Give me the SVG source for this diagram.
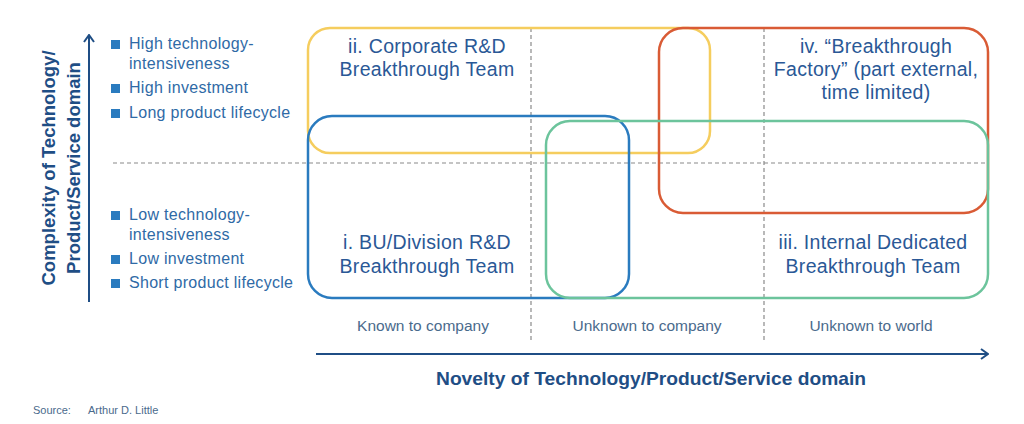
<svg xmlns="http://www.w3.org/2000/svg" width="1024" height="424" viewBox="0 0 1024 424">
<style>
.bul{font-family:"Liberation Sans",Arial,sans-serif;font-size:16px;letter-spacing:0.3px;fill:#2f6aa6}
.sq{fill:#2a7bbf}
.ttl{font-family:"Liberation Sans",Arial,sans-serif;font-size:19.5px;letter-spacing:0.3px;fill:#2a5896;text-anchor:middle}
.col{font-family:"Liberation Sans",Arial,sans-serif;font-size:15.5px;fill:#4a6a8c;text-anchor:middle}
.ax{font-family:"Liberation Sans",Arial,sans-serif;font-size:18.5px;font-weight:bold;fill:#1f4e85;text-anchor:middle}
.dash{stroke:#8a8a8a;stroke-width:1.2;stroke-dasharray:4 3;fill:none}
.box{fill:none;stroke-width:2.5}
.axis{stroke:#1f4e85;stroke-width:2;fill:none}
</style>
<defs>
<marker id="arr" viewBox="0 0 12 12" refX="11" refY="6" markerWidth="12" markerHeight="12" markerUnits="userSpaceOnUse" orient="auto">
<path d="M4,1 L11,6 L4,11" fill="none" stroke="#1f4e85" stroke-width="2"/>
</marker>
</defs>
<g id="grid">
<line class="dash" x1="113" y1="163" x2="988" y2="163"/>
<line class="dash" x1="531" y1="28" x2="531" y2="340"/>
<line class="dash" x1="764" y1="28" x2="764" y2="340"/>
</g>
<g id="connectors">
<line class="axis" x1="89" y1="302" x2="89" y2="35" marker-end="url(#arr)"/>
<line class="axis" x1="316" y1="354" x2="988" y2="354" marker-end="url(#arr)"/>
</g>
<g id="node-ii">
<rect class="box" x="308" y="28" width="402" height="125" rx="22" stroke="#f5cd5e"/>
<text class="ttl" x="427" y="53">ii. Corporate R&amp;D</text>
<text class="ttl" x="427" y="76">Breakthrough Team</text>
</g>
<g id="node-i">
<rect class="box" x="308" y="116" width="321" height="182" rx="24" stroke="#2a7bbf"/>
<text class="ttl" x="427" y="249">i. BU/Division R&amp;D</text>
<text class="ttl" x="427" y="273">Breakthrough Team</text>
</g>
<g id="node-iv">
<rect class="box" x="659" y="28" width="329" height="185" rx="24" stroke="#d95b35"/>
<text class="ttl" x="876" y="53">iv. “Breakthrough</text>
<text class="ttl" x="876" y="76">Factory” (part external,</text>
<text class="ttl" x="876" y="99">time limited)</text>
</g>
<g id="node-iii">
<rect class="box" x="546" y="121" width="442" height="177" rx="24" stroke="#6cc49c"/>
<text class="ttl" x="873" y="249">iii. Internal Dedicated</text>
<text class="ttl" x="873" y="273">Breakthrough Team</text>
</g>
<g id="bullets-high">
<rect class="sq" x="111" y="40" width="9" height="9"/>
<text class="bul" x="129" y="49">High technology-</text>
<text class="bul" x="129" y="69">intensiveness</text>
<rect class="sq" x="111" y="84" width="9" height="9"/>
<text class="bul" x="129" y="93">High investment</text>
<rect class="sq" x="111" y="109" width="9" height="9"/>
<text class="bul" x="129" y="118">Long product lifecycle</text>
</g>
<g id="bullets-low">
<rect class="sq" x="111" y="211" width="9" height="9"/>
<text class="bul" x="129" y="220">Low technology-</text>
<text class="bul" x="129" y="240">intensiveness</text>
<rect class="sq" x="111" y="255" width="9" height="9"/>
<text class="bul" x="129" y="264">Low investment</text>
<rect class="sq" x="111" y="279" width="9" height="9"/>
<text class="bul" x="129" y="288">Short product lifecycle</text>
</g>
<g id="y-axis-label">
<text class="ax" transform="translate(55,168) rotate(-90)">Complexity of Technology/</text>
<text class="ax" transform="translate(80,168) rotate(-90)">Product/Service domain</text>
</g>
<g id="columns">
<text class="col" x="423" y="331">Known to company</text>
<text class="col" x="647" y="331">Unknown to company</text>
<text class="col" x="871" y="331">Unknown to world</text>
</g>
<g id="x-axis-label">
<text class="ax" x="651" y="385" textLength="430" lengthAdjust="spacingAndGlyphs">Novelty of Technology/Product/Service domain</text>
</g>
<g id="source">
<text font-family="Liberation Sans,Arial,sans-serif" font-size="11" fill="#4a6a8c" x="33" y="414">Source:</text>
<text font-family="Liberation Sans,Arial,sans-serif" font-size="11" fill="#4a6a8c" x="88" y="414">Arthur D. Little</text>
</g>
</svg>
